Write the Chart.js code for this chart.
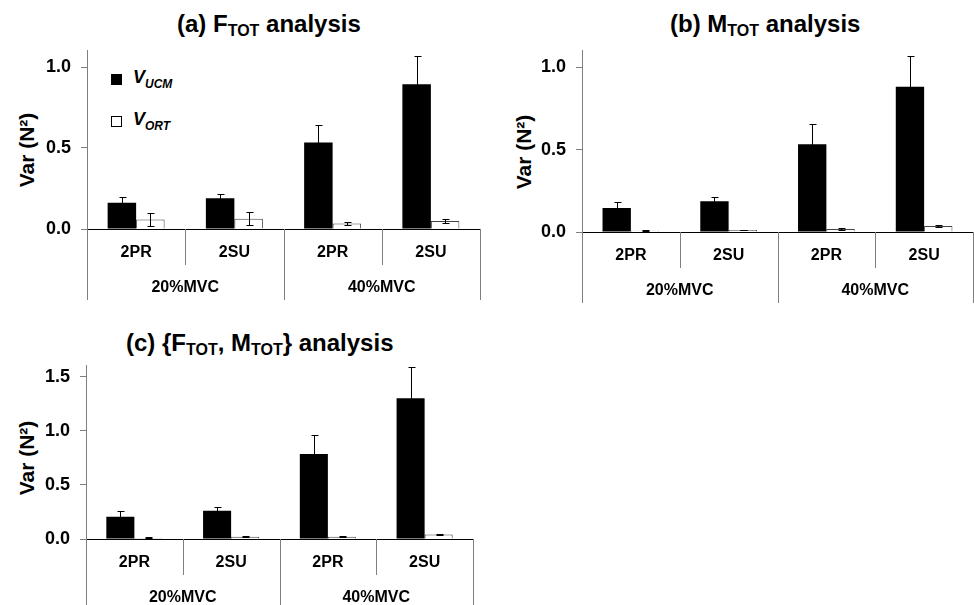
<!DOCTYPE html>
<html>
<head>
<meta charset="utf-8">
<script src="https://cdn.jsdelivr.net/npm/chart.js@4.4.0/dist/chart.umd.min.js"></script>
<style>
  body { margin: 0; width: 974px; height: 605px; overflow: hidden; position: relative; background: #fff;
         font-family: "Liberation Sans", Arial, sans-serif; color: #000; }
  canvas { position: absolute; }
  .title { position: absolute; font-weight: bold; font-size: 24px; line-height: 24px; white-space: nowrap; }
  .title sub { font-size: 16px; vertical-align: -4px; line-height: 0; }
  .ytitle { position: absolute; width: 140px; height: 24px; line-height: 24px; text-align: center;
            font-weight: bold; font-size: 21px; white-space: nowrap; transform: rotate(-90deg); }
  .leg { position: absolute; font-weight: bold; font-style: italic; font-size: 18px; line-height: 18px; white-space: nowrap; }
  .leg sub { font-size: 12px; vertical-align: -5px; line-height: 0; }
  .box { position: absolute; width: 9px; height: 9px; border: 1px solid #000; }
</style>
</head>
<body>

<div class="title" style="left:177px; top:12px">(a) F<sub>TOT</sub> analysis</div>
<div class="title" style="left:670px; top:12px">(b) M<sub>TOT</sub> analysis</div>
<div class="title" style="left:126px; top:331px">(c) {F<sub>TOT</sub>, M<sub>TOT</sub>} analysis</div>

<div class="ytitle" style="left:-43px; top:138px">Var (N²)</div>
<div class="ytitle" style="left:454px; top:140px">Var (N²)</div>
<div class="ytitle" style="left:-43px; top:446px">Var (N²)</div>

<div id="legend"></div>

<canvas id="chartA" width="485" height="275" style="left:0px; top:30px"></canvas>
<canvas id="chartB" width="484" height="275" style="left:490px; top:30px"></canvas>
<canvas id="chartC" width="480" height="260" style="left:0px; top:345px"></canvas>

<script>
// categorias
const subLabels = ["2PR", "2SU", "2PR", "2SU"];
const groupLabels = ["20%MVC", "40%MVC"];
const seriesNames = [["V", "UCM"], ["V", "ORT"]];

// (a) F_TOT
const ucmA = [0.162, 0.190, 0.534, 0.893];
const ucmErrA = [0.038, 0.028, 0.111, 0.172];
const ortA = [0.058, 0.064, 0.034, 0.050];
const ortErrA = [0.040, 0.038, 0.009, 0.010];
const yTicksA = [0, 0.5, 1.0];
const yMaxA = 1.1;

// (b) M_TOT
const ucmB = [0.145, 0.186, 0.533, 0.882];
const ucmErrB = [0.037, 0.028, 0.120, 0.184];
const ortB = [0.008, 0.012, 0.018, 0.037];
const ortErrB = [0.002, 0.002, 0.004, 0.008];
const yTicksB = [0, 0.5, 1.0];
const yMaxB = 1.1;

// (c) {F_TOT, M_TOT}
const ucmC = [0.205, 0.262, 0.786, 1.300];
const ucmErrC = [0.051, 0.036, 0.175, 0.285];
const ortC = [0.010, 0.020, 0.020, 0.042];
const ortErrC = [0.005, 0.004, 0.005, 0.008];
const yTicksC = [0, 0.5, 1.0, 1.5];
const yMaxC = 1.6;

Chart.defaults.font.family = "'Liberation Sans', Arial, sans-serif";
Chart.defaults.color = "#000";

const AXIS_GRAY = "#7f7f7f";

// barras de error (simetricas)
const errorBars = {
  id: "errorBars",
  afterDatasetsDraw(chart) {
    const ctx = chart.ctx;
    const y = chart.scales.y;
    chart.data.datasets.forEach((ds, d) => {
      const meta = chart.getDatasetMeta(d);
      meta.data.forEach((bar, i) => {
        const v = ds.data[i], e = ds.errors[i];
        const x = Math.round(bar.x) + 0.5;
        const top = Math.round(y.getPixelForValue(v + e)) + 0.5;
        const bot = Math.round(y.getPixelForValue(Math.max(v - e, 0))) + 0.5;
        ctx.save();
        ctx.strokeStyle = ds.errColor;
        ctx.lineWidth = 1;
        ctx.beginPath();
        ctx.moveTo(x, top); ctx.lineTo(x, bot);
        ctx.moveTo(x - 3, top); ctx.lineTo(x + 4, top);
        ctx.moveTo(x - 3, bot); ctx.lineTo(x + 4, bot);
        ctx.stroke();
        ctx.restore();
      });
    });
  }
};

// lineas divisorias bajo el eje x
const groupDividers = {
  id: "groupDividers",
  afterDraw(chart, args, opts) {
    const x = chart.scales.x;
    const area = chart.chartArea;
    const ctx = chart.ctx;
    const step = x.getPixelForValue(1) - x.getPixelForValue(0);
    const per = subLabels.length / groupLabels.length;
    ctx.save();
    ctx.strokeStyle = AXIS_GRAY;
    ctx.lineWidth = 1;
    ctx.beginPath();
    for (let i = 0; i <= subLabels.length; i++) {
      const px = Math.round(x.getPixelForValue(0) - step / 2 + i * step) + 0.5;
      const len = i % per === 0 ? opts.long : opts.short;
      ctx.moveTo(px, area.bottom);
      ctx.lineTo(px, area.bottom + len);
    }
    ctx.stroke();
    ctx.restore();
  }
};

function makeChart(id, ucm, ucmErr, ort, ortErr, yTicks, yMax, g) {
  const canvas = document.getElementById(id);
  const W = canvas.width, H = canvas.height;
  return new Chart(canvas, {
    type: "bar",
    data: {
      labels: subLabels,
      datasets: [
        {
          label: seriesNames[0].join(""),
          data: ucm,
          errors: ucmErr,
          errColor: "#000",
          xAxisID: "x",
          backgroundColor: "#000",
          borderWidth: 0,
          categoryPercentage: 0.58,
          barPercentage: 1.0,
        },
        {
          label: seriesNames[1].join(""),
          data: ort,
          errors: ortErr,
          errColor: "#000",
          xAxisID: "x",
          backgroundColor: "#fff",
          borderColor: "#444",
          borderWidth: 1,
          categoryPercentage: 0.58,
          barPercentage: 1.0,
        },
      ],
    },
    options: {
      responsive: false,
      animation: false,
      devicePixelRatio: 1,
      layout: { padding: { left: 0, top: g.top, right: W - g.right, bottom: 0 } },
      plugins: {
        legend: { display: false },
        tooltip: { enabled: false },
        groupDividers: { short: 36, long: 71 },
      },
      scales: {
        x: {
          type: "category",
          position: "bottom",
          weight: 0,
          offset: true,
          grid: { display: false, drawTicks: false },
          border: { display: true, color: "#000", width: 1 },
          ticks: { font: { size: 16, weight: "bold" }, padding: 14, maxRotation: 0, autoSkip: false },
          afterFit: (s) => { s.height = 36; },
        },
        x2: {
          type: "category",
          axis: "x",
          labels: groupLabels,
          position: "bottom",
          weight: 1,
          offset: true,
          grid: { display: false, drawTicks: false },
          border: { display: false },
          ticks: { font: { size: 16, weight: "bold" }, padding: 13, maxRotation: 0, autoSkip: false },
          afterFit: (s) => { s.height = H - g.bottom - 36; },
        },
        y: {
          min: 0,
          max: yMax,
          grid: { drawOnChartArea: false, drawTicks: true, tickLength: 6, color: AXIS_GRAY },
          border: { color: AXIS_GRAY, width: 1 },
          ticks: { font: { size: 18, weight: "bold" }, padding: 10, callback: (v) => v.toFixed(1) },
          afterBuildTicks: (s) => { s.ticks = yTicks.map((v) => ({ value: v })); },
          afterFit: (s) => { s.width = g.left; },
        },
      },
    },
    plugins: [errorBars, groupDividers],
  });
}

// leyenda del panel (a)
function drawLegend() {
  const el = document.getElementById("legend");
  const fills = ["#000", "#fff"];
  const tops = [74, 116];
  seriesNames.forEach((n, i) => {
    el.innerHTML += `<div class="box" style="left:111px; top:${tops[i]}px; background:${fills[i]}"></div>` +
      `<div class="leg" style="left:133px; top:${tops[i] - 6}px">${n[0]}<sub>${n[1]}</sub></div>`;
  });
}

document.addEventListener("DOMContentLoaded", () => {
  makeChart("chartA", ucmA, ucmErrA, ortA, ortErrA, yTicksA, yMaxA, { left: 87, top: 15, right: 480, bottom: 199 });
  makeChart("chartB", ucmB, ucmErrB, ortB, ortErrB, yTicksB, yMaxB, { left: 92, top: 16, right: 483, bottom: 202 });
  makeChart("chartC", ucmC, ucmErrC, ortC, ortErrC, yTicksC, yMaxC, { left: 86, top: 17, right: 473, bottom: 194 });
  drawLegend();
});
</script>
</body>
</html>
